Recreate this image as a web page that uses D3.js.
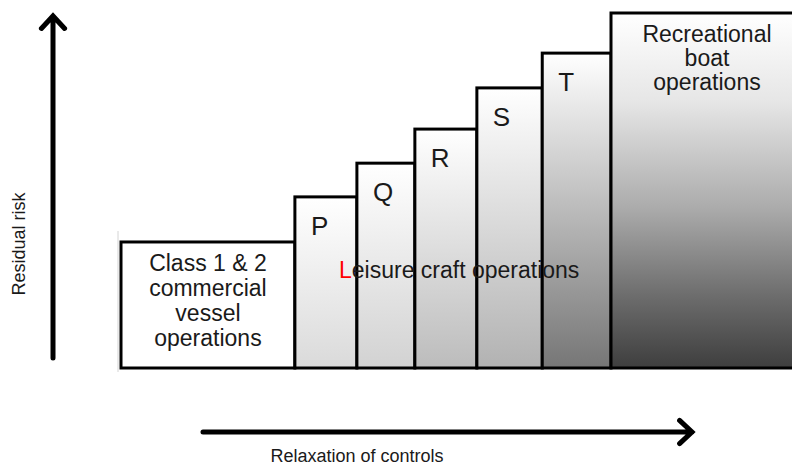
<!DOCTYPE html>
<html>
<head>
<meta charset="utf-8">
<script src="https://cdn.jsdelivr.net/npm/d3@7"></script>
<style>
  body { margin: 0; background: #fff; }
  text { font-family: "Liberation Sans", Arial, sans-serif; fill: #1a1a1a; }
</style>
</head>
<body>
<div id="chart"></div>
<script>
// size of the drawing
var svgWidth = 792;
var svgHeight = 471;

// the steps, left to right
var stepNames = ["Class 1 & 2 commercial vessel operations", "P", "Q", "R", "S", "T", "Recreational boat operations"];
// residual risk of each step (0 - 100)
var riskValues = [35.5, 48.2, 57.7, 67.3, 78.9, 88.7, 100];
// relaxation of controls: where each step starts and ends (0 - 100)
var controlEdges = [0, 25.8, 35, 43.6, 52.8, 62.5, 72.7, 100];
// shade at the bottom of each step
var bottomShades = ["#ffffff", "#dadada", "#d2d2d2", "#bcbcbc", "#b2b2b2", "#767676", "#3e3e3e"];
// text blocks
var class12Lines = ["Class 1 & 2", "commercial", "vessel", "operations"];
var recLines = ["Recreational", "boat", "operations"];

var svg = d3.select("#chart").append("svg")
  .attr("width", svgWidth)
  .attr("height", svgHeight);

var x = d3.scaleLinear().domain([0, 100]).range([121, 795]);
var y = d3.scaleLinear().domain([0, 100]).range([368, 13]);

// gradients for the bars
var defs = svg.append("defs");
bottomShades.forEach(function(c, i) {
  var g = defs.append("linearGradient")
    .attr("id", "grad" + i)
    .attr("x1", 0).attr("y1", 0).attr("x2", 0).attr("y2", 1);
  if (i == 6) {
    // last one darkens faster near the bottom
    var mid = [[0, "#ffffff"], [0.25, "#e6e6e6"], [0.55, "#ababab"], [0.8, "#6c6c6c"], [1, c]];
    mid.forEach(function(s) { g.append("stop").attr("offset", s[0]).attr("stop-color", s[1]); });
  } else {
    g.append("stop").attr("offset", 0).attr("stop-color", "#ffffff");
    g.append("stop").attr("offset", 1).attr("stop-color", c);
  }
});

// faint line on the left
svg.append("line")
  .attr("x1", 118).attr("x2", 118)
  .attr("y1", 231).attr("y2", 372)
  .attr("stroke", "#d4d4d4").attr("stroke-width", 1);

var bars = svg.selectAll(".step").data(stepNames).enter().append("rect")
  .attr("class", "step")
  .attr("x", (d, i) => x(controlEdges[i]))
  .attr("y", (d, i) => y(riskValues[i]))
  .attr("width", (d, i) => x(controlEdges[i + 1]) - x(controlEdges[i]))
  .attr("height", (d, i) => y(0) - y(riskValues[i]))
  .attr("fill", (d, i) => "url(#grad" + i + ")")
  .attr("stroke", "#000")
  .attr("stroke-width", 3);

// letters P..T
svg.selectAll(".letter").data(stepNames.slice(1, 6)).enter().append("text")
  .attr("class", "letter")
  .attr("x", (d, i) => x(controlEdges[i + 1]) + 16)
  .attr("y", (d, i) => y(riskValues[i + 1]) + 38)
  .attr("font-size", 26)
  .text(d => d);

// Class 1 & 2 text
var c0 = (x(controlEdges[0]) + x(controlEdges[1])) / 2;
svg.append("text")
  .attr("text-anchor", "middle")
  .attr("font-size", 23)
  .selectAll("tspan").data(class12Lines).enter().append("tspan")
  .attr("x", c0)
  .attr("y", (d, i) => 271 + i * 25)
  .text(d => d);

// Recreational text
var c6 = 707;
svg.append("text")
  .attr("text-anchor", "middle")
  .attr("font-size", 23)
  .selectAll("tspan").data(recLines).enter().append("tspan")
  .attr("x", c6)
  .attr("y", (d, i) => 42 + i * 24)
  .text(d => d);

// Leisure craft label, first letter in red
var leisure = svg.append("text")
  .attr("x", 339)
  .attr("y", 278)
  .attr("font-size", 23);
leisure.append("tspan").style("fill", "#ff0000").text("L");
leisure.append("tspan").text("eisure craft operations");

// arrows
function arrowPath(x1, y1, x2, y2, head) {
  var a = Math.atan2(y2 - y1, x2 - x1);
  var p = d3.path();
  p.moveTo(x1, y1);
  p.lineTo(x2, y2);
  p.moveTo(x2 - head * Math.cos(a - 0.75), y2 - head * Math.sin(a - 0.75));
  p.lineTo(x2, y2);
  p.lineTo(x2 - head * Math.cos(a + 0.75), y2 - head * Math.sin(a + 0.75));
  return p.toString();
}

svg.append("path")
  .attr("d", arrowPath(53, 358, 53, 16, 17))
  .attr("fill", "none").attr("stroke", "#000").attr("stroke-width", 5)
  .attr("stroke-linecap", "round").attr("stroke-linejoin", "miter");

svg.append("path")
  .attr("d", arrowPath(203, 432, 692, 432, 17))
  .attr("fill", "none").attr("stroke", "#000").attr("stroke-width", 5)
  .attr("stroke-linecap", "round").attr("stroke-linejoin", "miter");

// axis titles
svg.append("text")
  .attr("transform", "translate(25, 244) rotate(-90)")
  .attr("text-anchor", "middle")
  .attr("font-size", 18)
  .text("Residual risk");

svg.append("text")
  .attr("x", 357)
  .attr("y", 462)
  .attr("text-anchor", "middle")
  .attr("font-size", 18)
  .text("Relaxation of controls");
</script>
</body>
</html>
